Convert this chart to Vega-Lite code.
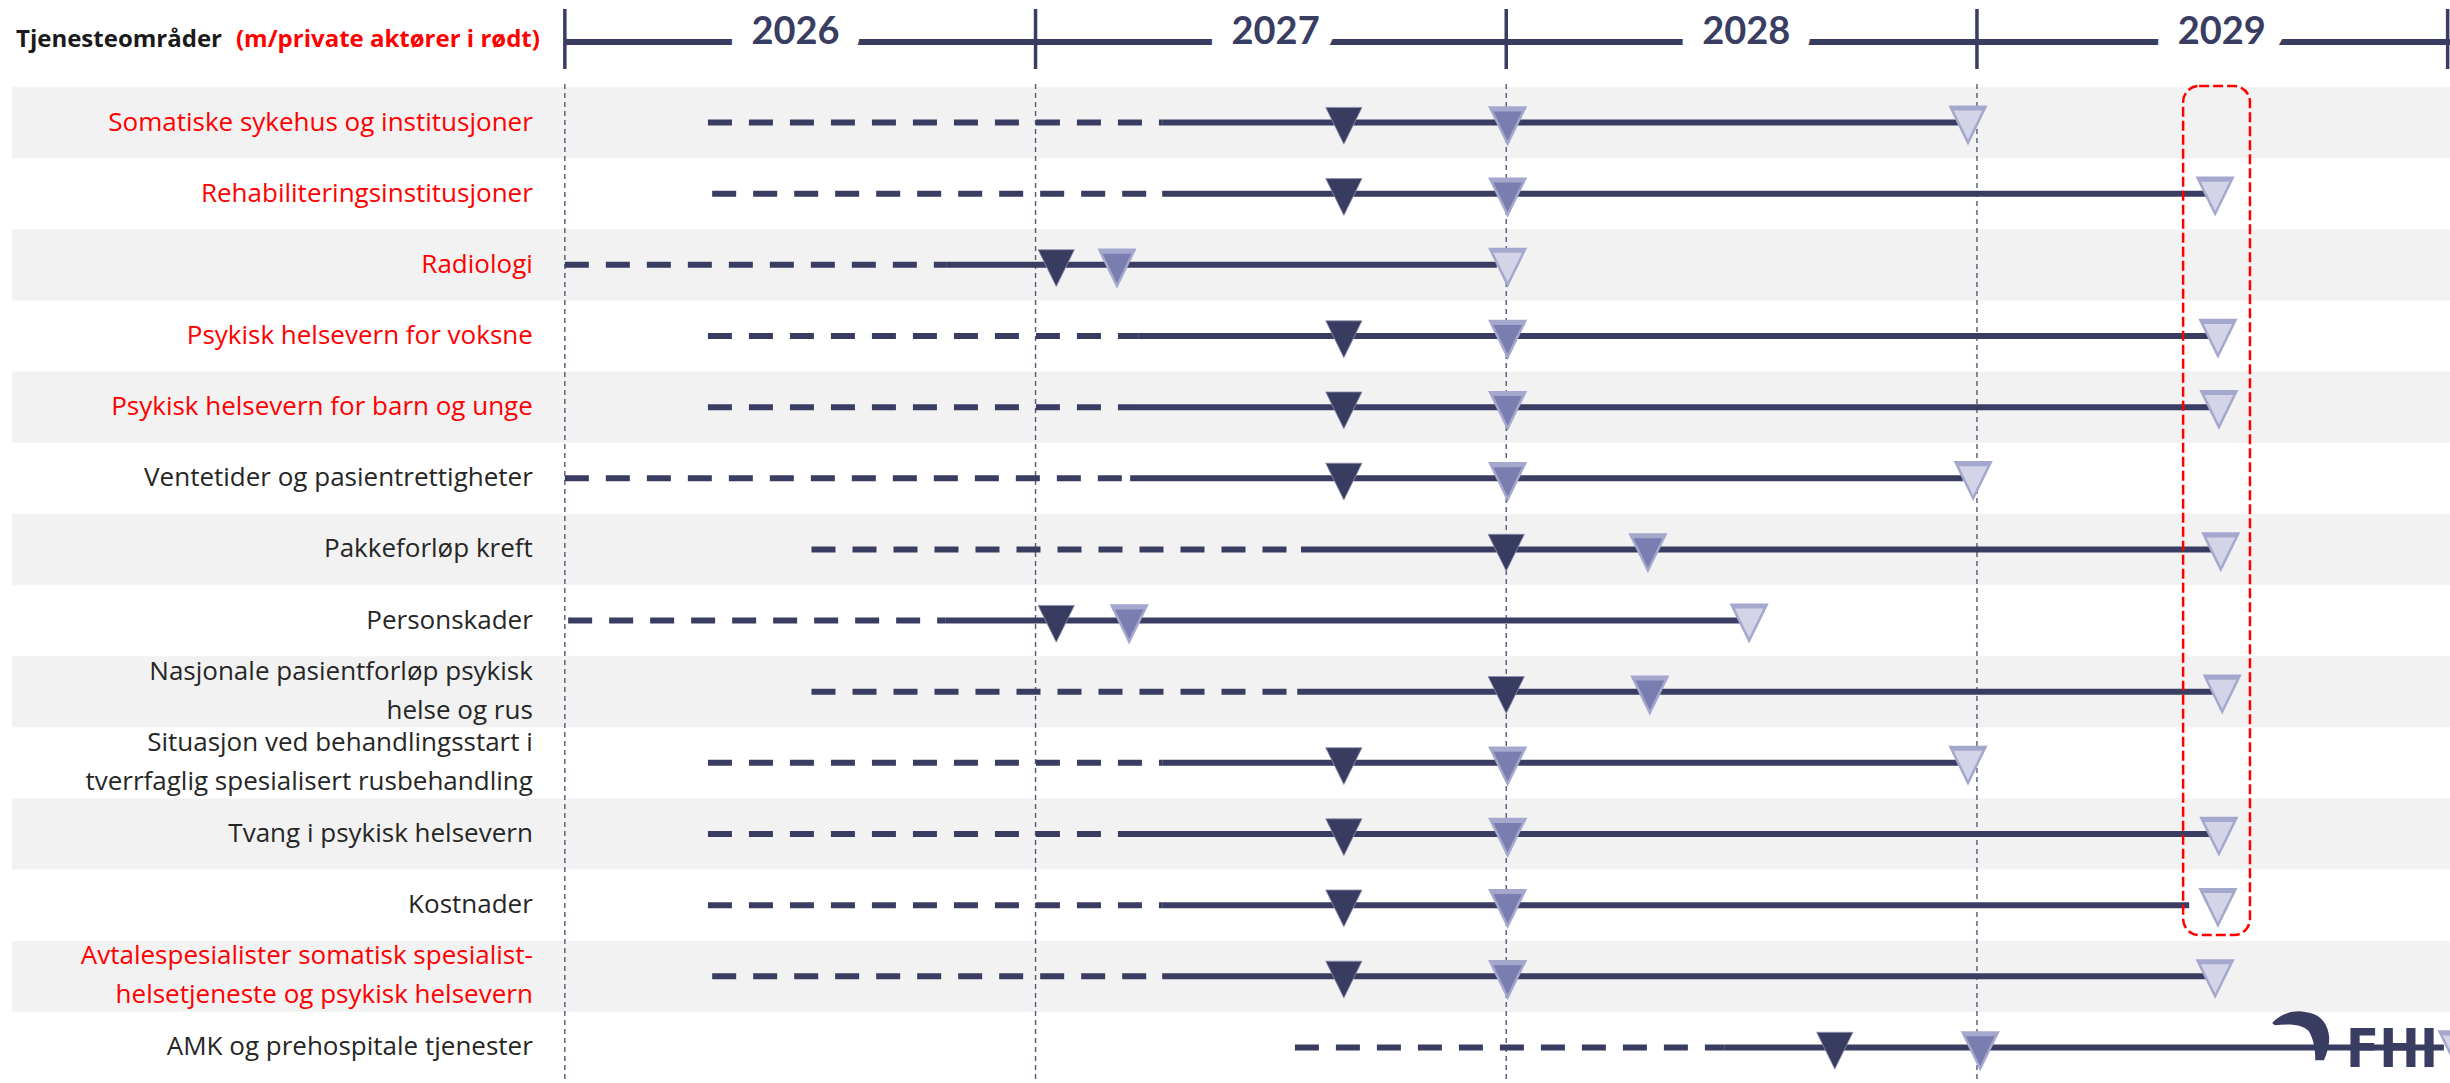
{
  "$schema": "https://vega.github.io/schema/vega-lite/v6.json",
  "width": 2450,
  "height": 1083,
  "autosize": {"type": "none"},
  "padding": 0,
  "background": "white",
  "config": {"view": {"stroke": null}},
  "datasets": {
    "rader": [
      {"rad": 1, "tema": "Somatiske sykehus og institusjoner", "privat": "ja", "start": 2026.304, "skifte": 2027.269, "slutt": 2028.96, "m1": 2027.655, "m2": 2028.003, "m3": 2028.981},
      {"rad": 2, "tema": "Rehabiliteringsinstitusjoner", "privat": "ja", "start": 2026.313, "skifte": 2027.269, "slutt": 2029.487, "m1": 2027.655, "m2": 2028.003, "m3": 2029.506},
      {"rad": 3, "tema": "Radiologi", "privat": "ja", "start": 2026.0, "skifte": 2026.81, "slutt": 2027.98, "m1": 2027.044, "m2": 2027.173, "m3": 2028.003},
      {"rad": 4, "tema": "Psykisk helsevern for voksne", "privat": "ja", "start": 2026.304, "skifte": 2027.218, "slutt": 2029.493, "m1": 2027.655, "m2": 2028.003, "m3": 2029.512},
      {"rad": 5, "tema": "Psykisk helsevern for barn og unge", "privat": "ja", "start": 2026.304, "skifte": 2027.224, "slutt": 2029.497, "m1": 2027.655, "m2": 2028.003, "m3": 2029.514},
      {"rad": 6, "tema": "Ventetider og pasientrettigheter", "privat": "nei", "start": 2026.0, "skifte": 2027.201, "slutt": 2028.97, "m1": 2027.655, "m2": 2028.003, "m3": 2028.992},
      {"rad": 7, "tema": "Pakkeforløp kreft", "privat": "nei", "start": 2026.524, "skifte": 2027.564, "slutt": 2029.502, "m1": 2028.0, "m2": 2028.301, "m3": 2029.518},
      {"rad": 8, "tema": "Personskader", "privat": "nei", "start": 2026.007, "skifte": 2026.808, "slutt": 2028.497, "m1": 2027.044, "m2": 2027.199, "m3": 2028.516},
      {"rad": 9, "tema": "Nasjonale pasientforløp psykisk\nhelse og rus", "privat": "nei", "start": 2026.524, "skifte": 2027.556, "slutt": 2029.502, "m1": 2028.0, "m2": 2028.305, "m3": 2029.521},
      {"rad": 10, "tema": "Situasjon ved behandlingsstart i\ntverrfaglig spesialisert rusbehandling", "privat": "nei", "start": 2026.304, "skifte": 2027.269, "slutt": 2028.96, "m1": 2027.655, "m2": 2028.003, "m3": 2028.981},
      {"rad": 11, "tema": "Tvang i psykisk helsevern", "privat": "nei", "start": 2026.304, "skifte": 2027.224, "slutt": 2029.502, "m1": 2027.655, "m2": 2028.003, "m3": 2029.514},
      {"rad": 12, "tema": "Kostnader", "privat": "nei", "start": 2026.304, "skifte": 2027.269, "slutt": 2029.451, "m1": 2027.655, "m2": 2028.003, "m3": 2029.512},
      {"rad": 13, "tema": "Avtalespesialister somatisk spesialist-\nhelsetjeneste og psykisk helsevern", "privat": "ja", "start": 2026.313, "skifte": 2027.269, "slutt": 2029.487, "m1": 2027.655, "m2": 2028.003, "m3": 2029.506},
      {"rad": 14, "tema": "AMK og prehospitale tjenester", "privat": "nei", "start": 2027.551, "skifte": 2028.463, "slutt": 2029.992, "m1": 2028.698, "m2": 2029.007, "m3": 2030.02}
    ],
    "aar": [
      {"aar": 2026, "etikett": "2026", "midt": 2026.49},
      {"aar": 2027, "etikett": "2027", "midt": 2027.51},
      {"aar": 2028, "etikett": "2028", "midt": 2028.51},
      {"aar": 2029, "etikett": "2029", "midt": 2029.52},
      {"aar": 2030, "etikett": "", "midt": 2030.0}
    ]
  },
  "resolve": {"scale": {"y": "independent"}},
  "layer": [
    {
      "data": {"name": "rader"},
      "transform": [{"filter": "datum.rad % 2 == 1"}],
      "mark": {"type": "rect", "color": "#f2f2f2"},
      "encoding": {
        "x": {"datum": 2024.8255, "type": "quantitative", "scale": {"domain": [2024.8, 2030.005], "nice": false, "zero": false}, "axis": null},
        "x2": {"datum": 2030.005},
        "y": {"field": "rad", "type": "ordinal", "axis": null, "scale": {"type": "band", "domain": [1,2,3,4,5,6,7,8,9,10,11,12,13,14], "paddingInner": 0, "paddingOuter": 0.6114, "align": 1}}
      }
    },
    {
      "data": {"name": "aar"},
      "transform": [{"filter": "datum.aar < 2030"}],
      "mark": {"type": "rule", "color": "#55587a", "strokeWidth": 1.4, "strokeDash": [5, 4]},
      "encoding": {
        "x": {"field": "aar", "type": "quantitative", "scale": {"domain": [2024.8, 2030.005], "nice": false, "zero": false}, "axis": null},
        "y": {"datum": -0.042, "type": "quantitative", "axis": null, "scale": {"domain": [-1.2229, 14], "reverse": true, "nice": false, "zero": false}},
        "y2": {"datum": 14}
      }
    },
    {
      "data": {"name": "rader"},
      "encoding": {
        "y": {"field": "rad", "type": "ordinal", "axis": null, "scale": {"type": "band", "domain": [1,2,3,4,5,6,7,8,9,10,11,12,13,14], "paddingInner": 0, "paddingOuter": 0.6114, "align": 1}}
      },
      "layer": [
        {
          "mark": {"type": "rule", "color": "#3a3d62", "strokeWidth": 6, "strokeDash": [24, 17], "strokeCap": "butt"},
          "encoding": {
            "x": {"field": "start", "type": "quantitative", "scale": {"domain": [2024.8, 2030.005], "nice": false, "zero": false}, "axis": null},
            "x2": {"field": "skifte"}
          }
        },
        {
          "mark": {"type": "rule", "color": "#3a3d62", "strokeWidth": 6, "strokeCap": "butt"},
          "encoding": {
            "x": {"field": "skifte", "type": "quantitative", "scale": {"domain": [2024.8, 2030.005], "nice": false, "zero": false}, "axis": null},
            "x2": {"field": "slutt"}
          }
        },
        {
          "mark": {"type": "point", "shape": "M-0.97,-0.81L0.97,-0.81L0,1.16Z", "size": 1400, "filled": true, "fill": "#393c61", "stroke": "#8f92b3", "strokeWidth": 0.8, "opacity": 1},
          "encoding": {
            "x": {"field": "m1", "type": "quantitative", "scale": {"domain": [2024.8, 2030.005], "nice": false, "zero": false}, "axis": null}
          }
        },
        {
          "mark": {"type": "point", "shape": "M-0.95,-0.81L0.95,-0.81L0,1.14Z", "size": 1369, "filled": true, "fill": "#797daf", "stroke": "#a5a8cd", "strokeWidth": 2.5, "opacity": 1},
          "encoding": {
            "x": {"field": "m2", "type": "quantitative", "scale": {"domain": [2024.8, 2030.005], "nice": false, "zero": false}, "axis": null}
          }
        },
        {
          "mark": {"type": "point", "shape": "M-0.95,-0.81L0.95,-0.81L0.86,-0.6L-0.86,-0.6Z", "size": 1369, "filled": true, "fill": "#a5a8cd", "strokeWidth": 0, "opacity": 1},
          "encoding": {
            "x": {"field": "m2", "type": "quantitative", "scale": {"domain": [2024.8, 2030.005], "nice": false, "zero": false}, "axis": null}
          }
        },
        {
          "mark": {"type": "point", "shape": "M-0.95,-0.86L0.95,-0.86L0,1.08Z", "size": 1369, "filled": true, "fill": "#d3d4e7", "stroke": "#a5a8cd", "strokeWidth": 2.5, "opacity": 1},
          "encoding": {
            "x": {"field": "m3", "type": "quantitative", "scale": {"domain": [2024.8, 2030.005], "nice": false, "zero": false}, "axis": null}
          }
        },
        {
          "mark": {"type": "point", "shape": "M-0.95,-0.86L0.95,-0.86L0.86,-0.65L-0.86,-0.65Z", "size": 1369, "filled": true, "fill": "#a5a8cd", "strokeWidth": 0, "opacity": 1},
          "encoding": {
            "x": {"field": "m3", "type": "quantitative", "scale": {"domain": [2024.8, 2030.005], "nice": false, "zero": false}, "axis": null}
          }
        },
        {
          "transform": [{"filter": "indexof(datum.tema, '\\n') < 0"}],
          "mark": {"type": "text", "align": "right", "baseline": "middle", "font": "Open Sans", "fontSize": 26, "lineBreak": "\n", "lineHeight": 39},
          "encoding": {
            "x": {"datum": 2025.932, "type": "quantitative", "scale": {"domain": [2024.8, 2030.005], "nice": false, "zero": false}, "axis": null},
            "text": {"field": "tema", "type": "nominal"},
            "color": {"field": "privat", "type": "nominal", "legend": null, "scale": {"domain": ["ja", "nei"], "range": ["#ff0000", "#262626"]}}
          }
        },
        {
          "transform": [{"filter": "indexof(datum.tema, '\\n') >= 0"}],
          "mark": {"type": "text", "align": "right", "baseline": "middle", "font": "Open Sans", "fontSize": 26, "lineBreak": "\n", "lineHeight": 39, "dy": -20},
          "encoding": {
            "x": {"datum": 2025.932, "type": "quantitative", "scale": {"domain": [2024.8, 2030.005], "nice": false, "zero": false}, "axis": null},
            "text": {"field": "tema", "type": "nominal"},
            "color": {"field": "privat", "type": "nominal", "legend": null, "scale": {"domain": ["ja", "nei"], "range": ["#ff0000", "#262626"]}}
          }
        }
      ]
    },
    {
      "encoding": {
        "y": {"datum": 0, "type": "quantitative", "axis": null, "scale": {"domain": [-1.2229, 14], "reverse": true, "nice": false, "zero": false}}
      },
      "layer": [
        {
          "data": {"values": [{}]},
          "mark": {"type": "rule", "color": "#3a3d62", "strokeWidth": 6},
          "encoding": {
            "x": {"datum": 2026, "type": "quantitative", "scale": {"domain": [2024.8, 2030.005], "nice": false, "zero": false}, "axis": null},
            "x2": {"datum": 2030.005},
            "y": {"datum": -0.6326, "type": "quantitative"}
          }
        },
        {
          "data": {"name": "aar"},
          "mark": {"type": "rule", "color": "#3a3d62", "strokeWidth": 3.5},
          "encoding": {
            "x": {"field": "aar", "type": "quantitative", "scale": {"domain": [2024.8, 2030.005], "nice": false, "zero": false}, "axis": null},
            "y": {"datum": -1.0964, "type": "quantitative"},
            "y2": {"datum": -0.253}
          }
        },
        {
          "data": {"name": "aar"},
          "transform": [{"filter": "datum.aar < 2030"}],
          "mark": {"type": "text", "align": "center", "baseline": "middle", "font": "Lato", "fontWeight": "bold", "fontSize": 38, "color": "white", "stroke": "white", "strokeWidth": 42, "strokeJoin": "round"},
          "encoding": {
            "x": {"field": "midt", "type": "quantitative", "scale": {"domain": [2024.8, 2030.005], "nice": false, "zero": false}, "axis": null},
            "y": {"datum": -0.76, "type": "quantitative"},
            "text": {"field": "etikett", "type": "nominal"}
          }
        },
        {
          "data": {"name": "aar"},
          "transform": [{"filter": "datum.aar < 2030"}],
          "mark": {"type": "text", "align": "center", "baseline": "middle", "font": "Lato", "fontWeight": "bold", "fontSize": 38, "color": "#3a3d62"},
          "encoding": {
            "x": {"field": "midt", "type": "quantitative", "scale": {"domain": [2024.8, 2030.005], "nice": false, "zero": false}, "axis": null},
            "y": {"datum": -0.76, "type": "quantitative"},
            "text": {"field": "etikett", "type": "nominal"}
          }
        },
        {
          "data": {"values": [{"tekst": "Tjenesteområder"}]},
          "mark": {"type": "text", "align": "left", "baseline": "middle", "font": "Open Sans", "fontWeight": "bold", "fontSize": 24, "color": "#1a1a1a"},
          "encoding": {
            "x": {"datum": 2024.834, "type": "quantitative", "scale": {"domain": [2024.8, 2030.005], "nice": false, "zero": false}, "axis": null},
            "y": {"datum": -0.661, "type": "quantitative"},
            "text": {"field": "tekst", "type": "nominal"}
          }
        },
        {
          "data": {"values": [{"tekst": "(m/private aktører i rødt)"}]},
          "mark": {"type": "text", "align": "right", "baseline": "middle", "font": "Open Sans", "fontWeight": "bold", "fontSize": 24, "color": "#ff0000"},
          "encoding": {
            "x": {"datum": 2025.947, "type": "quantitative", "scale": {"domain": [2024.8, 2030.005], "nice": false, "zero": false}, "axis": null},
            "y": {"datum": -0.661, "type": "quantitative"},
            "text": {"field": "tekst", "type": "nominal"}
          }
        },
        {
          "data": {"values": [{}]},
          "mark": {"type": "rect", "fillOpacity": 0, "fill": "white", "stroke": "#ff0000", "strokeWidth": 2.5, "strokeDash": [10, 4], "cornerRadius": 16},
          "encoding": {
            "x": {"datum": 2029.438, "type": "quantitative", "scale": {"domain": [2024.8, 2030.005], "nice": false, "zero": false}, "axis": null},
            "x2": {"datum": 2029.58},
            "y": {"datum": -0.014, "type": "quantitative"},
            "y2": {"datum": 11.92}
          }
        },
        {
          "data": {"values": [{"tekst": "FHI"}]},
          "mark": {"type": "text", "align": "right", "baseline": "alphabetic", "font": "DejaVu Sans Condensed, Liberation Sans Narrow, Roboto, sans-serif", "fontWeight": "bold", "fontSize": 54, "color": "#3a3d62"},
          "encoding": {
            "x": {"datum": 2029.9795, "type": "quantitative", "scale": {"domain": [2024.8, 2030.005], "nice": false, "zero": false}, "axis": null},
            "y": {"datum": 13.776, "type": "quantitative"},
            "text": {"field": "tekst", "type": "nominal"}
          }
        },
        {
          "data": {"values": [{}]},
          "mark": {"type": "point", "shape": "M-0.94,-0.37C-0.7,-0.65,-0.3,-0.75,0,-0.69C0.4,-0.65,0.65,-0.4,0.69,0.03C0.7,0.3,0.6,0.55,0.54,0.69L0.29,0.69C0.3,0.4,0.25,0.1,0.1,-0.15C-0.1,-0.35,-0.5,-0.35,-0.86,-0.31Z", "size": 4900, "filled": true, "fill": "#3a3d62", "opacity": 1},
          "encoding": {
            "x": {"datum": 2029.697, "type": "quantitative", "scale": {"domain": [2024.8, 2030.005], "nice": false, "zero": false}, "axis": null},
            "y": {"datum": 13.34, "type": "quantitative"}
          }
        }
      ]
    }
  ]
}
